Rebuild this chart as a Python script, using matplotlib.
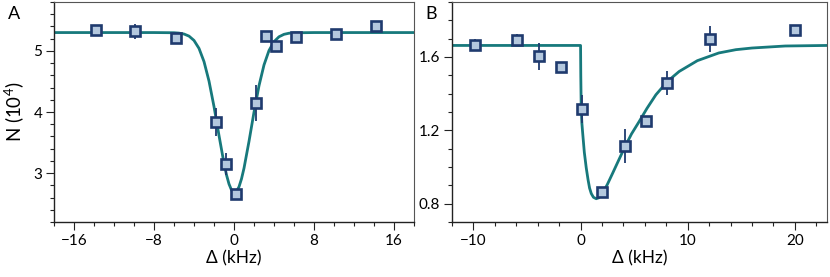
"""Two panels: atom number vs detuning, data with fitted curves."""

import matplotlib
matplotlib.use("Agg")
import matplotlib.pyplot as plt
from matplotlib.ticker import MultipleLocator, FormatStrFormatter

# panel A data
xA = [-13.8, -9.9, -5.8, -1.8, -0.8, 0.2, 2.2, 3.2, 4.2, 6.2, 10.2, 14.2]
yA = [5.34, 5.32, 5.21, 3.84, 3.15, 2.66, 4.15, 5.24, 5.08, 5.22, 5.28, 5.41]
eA = [0.03, 0.12, 0.03, 0.23, 0.18, 0.03, 0.30, 0.03, 0.07, 0.03, 0.03, 0.05]

# panel A fit curve
fitA_x = [-18, -8, -6, -5.5, -5, -4.5, -4, -3.5, -3, -2.5, -2, -1.5, -1, -0.75,
          -0.5, -0.25, 0, 0.25, 0.5, 0.75, 1, 1.5, 2, 2.5, 3, 3.5, 4, 4.5,
          5, 5.5, 6, 8, 18]
fitA_y = [5.30, 5.30, 5.297, 5.291, 5.276, 5.242, 5.171, 5.041, 4.825, 4.506,
          4.089, 3.615, 3.160, 2.971, 2.822, 2.723, 2.681, 2.699, 2.776, 2.906,
          3.080, 3.519, 3.997, 4.430, 4.770, 5.006, 5.151, 5.231, 5.271, 5.289,
          5.296, 5.30, 5.30]

# panel B data
xB = [-9.9, -5.9, -3.9, -1.86, 0.1, 2.04, 4.1, 6.07, 8.05, 12.07, 20.0]
yB = [1.667, 1.693, 1.604, 1.544, 1.316, 0.862, 1.116, 1.251, 1.456, 1.698, 1.745]
eB = [0.03, 0.035, 0.073, 0.01, 0.075, 0.03, 0.093, 0.01, 0.065, 0.07, 0.01]

# panel B fit curve
fitB_x = [-12, 0.0, 0.02, 0.06, 0.12, 0.21, 0.35, 0.53, 0.7, 0.84, 1.0, 1.2,
          1.46, 1.7, 2.07, 2.5, 3.0, 3.5, 4.09, 4.75, 5.48, 6.2, 7.03, 8.11,
          9.2, 10.9, 12.9, 14.5, 16.0, 19.1, 23]
fitB_y = [1.663, 1.663, 1.50, 1.32, 1.24, 1.176, 1.08, 0.995, 0.93, 0.885,
          0.855, 0.835, 0.827, 0.832, 0.858, 0.905, 0.967, 1.03, 1.104, 1.18,
          1.249, 1.32, 1.394, 1.467, 1.521, 1.58, 1.622, 1.640, 1.649, 1.66,
          1.663]

plt.rcParams['font.family'] = ['Lato', 'DejaVu Sans']
plt.rcParams['mathtext.default'] = 'regular'

teal = '#17797c'
navy = '#1f3a6e'
face = '#b4c8de'

fig = plt.figure(figsize=(8.3, 2.77), dpi=100)
axA = fig.add_axes([54 / 830, 55 / 277, 360 / 830, 220 / 277])
axB = fig.add_axes([452 / 830, 55 / 277, 375 / 830, 220 / 277])

for ax, x, y, e, fx, fy in [(axA, xA, yA, eA, fitA_x, fitA_y),
                            (axB, xB, yB, eB, fitB_x, fitB_y)]:
    ax.plot(fx, fy, color=teal, lw=2.0, zorder=2)
    ax.errorbar(x, y, yerr=e, fmt='s', ms=7.7, mfc=face, mec=navy, mew=1.9,
                ecolor=navy, elinewidth=1.3, capsize=0, zorder=3)
    ax.tick_params(which='both', direction='out', labelsize=11, width=0.8,
                   color='#222222', top=False, right=False)
    ax.tick_params(which='major', length=5.5, pad=3)
    ax.tick_params(which='minor', length=3)
    for s in ['left', 'bottom']:
        ax.spines[s].set_color('#222222')
        ax.spines[s].set_linewidth(1.0)
    for s in ['top', 'right']:
        ax.spines[s].set_color('#555555')
        ax.spines[s].set_linewidth(0.8)
    ax.set_xlabel('Δ (kHz)', fontsize=12.5, labelpad=2)

axA.set_xlim(-18, 18)
axA.set_ylim(2.2, 5.8)
axA.xaxis.set_major_locator(MultipleLocator(8))
axA.xaxis.set_minor_locator(MultipleLocator(2))
axA.yaxis.set_major_locator(MultipleLocator(1))
axA.yaxis.set_minor_locator(MultipleLocator(0.2))
axA.set_ylabel('N (10$^4$)', fontsize=13.5, labelpad=5)

axB.set_xlim(-12, 23)
axB.set_ylim(0.7, 1.9)
axB.xaxis.set_major_locator(MultipleLocator(10))
axB.xaxis.set_minor_locator(MultipleLocator(2))
axB.yaxis.set_major_locator(MultipleLocator(0.4))
axB.yaxis.set_minor_locator(MultipleLocator(0.1))
axB.yaxis.set_major_formatter(FormatStrFormatter('%.1f'))

fig.text(8 / 830, 1 - 19 / 277, 'A', fontsize=13)
fig.text(425 / 830, 1 - 19 / 277, 'B', fontsize=13)

fig.savefig('out.png', dpi=100)
